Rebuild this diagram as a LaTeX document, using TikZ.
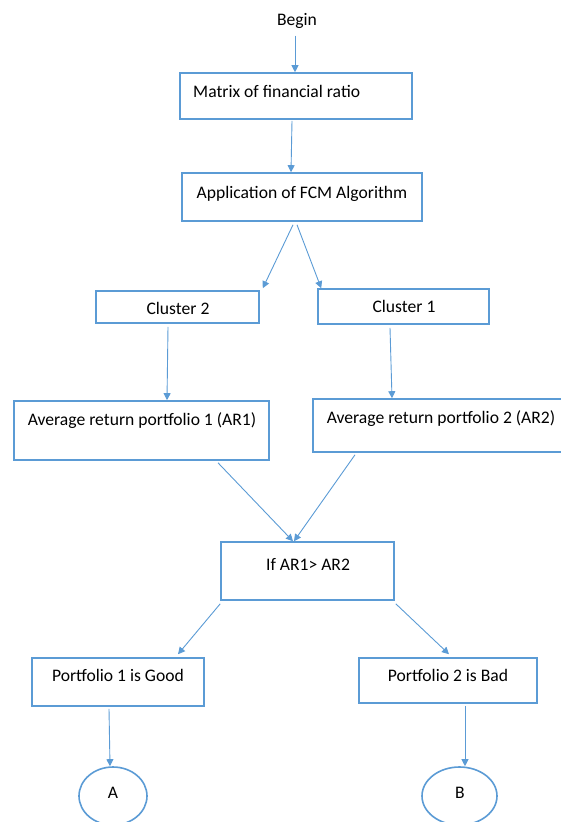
\documentclass[tikz,border=0pt]{standalone}
\usepackage{fontspec}
\setmainfont{Carlito}
\usetikzlibrary{arrows.meta,shapes.geometric}
\definecolor{ob}{HTML}{5B9BD5}
\begin{document}
\begin{tikzpicture}[x=1pt,y=-1pt,
  box/.style={draw=ob,line width=1.6pt,rectangle,inner sep=0pt},
  oval/.style={draw=ob,line width=1.6pt,ellipse,inner sep=0pt},
  txt/.style={font=\fontsize{17.6}{20}\selectfont,inner sep=0pt,text height=15.5pt,text depth=3.5pt},
  arr/.style={draw=ob,line width=0.9pt,-{Triangle[width=7pt,length=7pt]}}]
\useasboundingbox (0,0) rectangle (561,822);
% boxes
\node[box,minimum width=232pt,minimum height=46pt] (m) at (296,96) {};
\node[box,minimum width=240pt,minimum height=48pt] (f) at (302,197) {};
\node[box,minimum width=163pt,minimum height=32pt] (c2) at (177.5,307) {};
\node[box,minimum width=171pt,minimum height=35pt] (c1) at (403.5,306.5) {};
\node[box,minimum width=255pt,minimum height=59pt] (ar1) at (141.5,430.5) {};
\node[box,minimum width=254pt,minimum height=53pt] (ar2) at (440,425.5) {};
\node[box,minimum width=173pt,minimum height=58pt] (if) at (307.5,571) {};
\node[box,minimum width=172pt,minimum height=48pt] (good) at (118,682) {};
\node[box,minimum width=178pt,minimum height=45pt] (bad) at (448,680.5) {};
\node[oval,minimum width=68pt,minimum height=58pt] (A) at (113,796) {};
\node[oval,minimum width=75pt,minimum height=58pt] (B) at (459.5,796) {};
% texts
\node[txt] (begin) at (297,19) {Begin};
\node[txt,anchor=west] (mt) at (193,91) {Matrix of financial ratio};
\node[txt] (ft) at (302,192) {Application of FCM Algorithm};
\node[txt] (c2t) at (178,308) {Cluster 2};
\node[txt] (c1t) at (404,306) {Cluster 1};
\node[txt] (ar1t) at (142,419) {Average return portfolio 1 (AR1)};
\node[txt] (ar2t) at (441,417) {Average return portfolio 2 (AR2)};
\node[txt] (ift) at (308,564) {If AR1> AR2};
\node[txt] (goodt) at (118,675) {Portfolio 1 is Good};
\node[txt] (badt) at (448,675) {Portfolio 2 is Bad};
\node[txt] (At) at (113,792) {A};
\node[txt] (Bt) at (460,792) {B};
% connectors
\draw[arr] ([xshift=-2pt,yshift=-7pt]begin.south) -- ([xshift=-1pt]m.north);
\draw[arr] ([xshift=-4pt,yshift=-1pt]m.south) -- ([xshift=-11pt]f.north);
\draw[arr] ([xshift=-9pt,yshift=-3pt]f.south) -- ([xshift=3pt,yshift=2pt]c2.north east);
\draw[arr] ([xshift=-5pt,yshift=-3pt]f.south) -- ([xshift=4pt]c1.north west);
\draw[arr] ([xshift=-9.5pt,yshift=-3pt]c2.south) -- ([xshift=25.5pt]ar1.north);
\draw[arr] ([xshift=-13.5pt,yshift=-3pt]c1.south) -- ([xshift=-48pt]ar2.north);
\draw[arr] ([xshift=76.5pt,yshift=-2pt]ar1.south) -- ([xshift=-14.5pt]if.north);
\draw[arr] ([xshift=-85pt,yshift=-2pt]ar2.south) -- ([xshift=-13.5pt]if.north);
\draw[arr] ([yshift=-3pt]if.south west) -- ([xshift=60pt,yshift=3pt]good.north);
\draw[arr] ([xshift=1pt,yshift=-3pt]if.south east) -- ([xshift=1pt,yshift=3pt]bad.north);
\draw[arr] ([xshift=-9pt,yshift=-2pt]good.south) -- ([xshift=-3pt]A.north);
\draw[arr] ([xshift=17pt,yshift=-2pt]bad.south) -- ([xshift=5.5pt]B.north);
\end{tikzpicture}
\end{document}
